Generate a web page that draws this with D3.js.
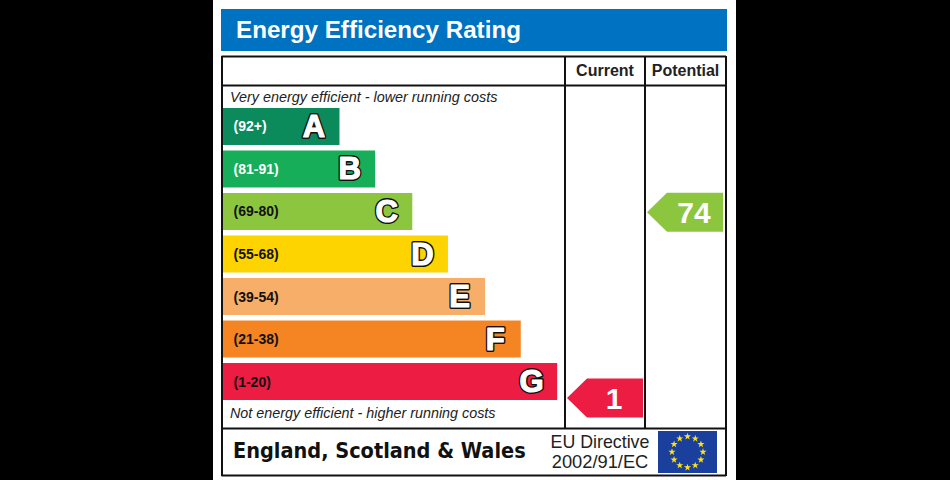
<!DOCTYPE html>
<html><head><meta charset="utf-8">
<script src="https://cdn.jsdelivr.net/npm/d3@7/dist/d3.min.js"></script>
<style>html,body{margin:0;padding:0;background:#000;overflow:hidden}svg{display:block}text{font-family:"Liberation Sans",Arial,sans-serif}</style>
</head><body><svg id="c" width="950" height="480"></svg>
<script>
const letters = ["A","B","C","D","E","F","G"];
const ranges = ["(92+)","(81-91)","(69-80)","(55-68)","(39-54)","(21-38)","(1-20)"];
const barLengths = [3.2,4.18,5.2,6.18,7.2,8.18,9.18];
const barColors = ["#0b8a5c","#17ae59","#8cc63f","#fdd400","#f7ae68","#f58423","#ec1c42"];
const rangeColors = ["#fff","#fff","#111","#111","#111","#111","#111"];
const currentRating = [1];
const potentialRating = [74];
const ratingEdges = [1,20.5,38.5,54.5,68.5,80.5];
const ratingEdgeY = [398,359,317,275,231,190];
const title = "Energy Efficiency Rating";
const columns = ["Current","Potential"];
const topNote = "Very energy efficient - lower running costs";
const bottomNote = "Not energy efficient - higher running costs";
const footer = "England, Scotland & Wales";
const directive = ["EU Directive","2002/91/EC"];
const starIndex = d3.range(12);

const svg = d3.select("#c");
const x = d3.scaleLinear().domain([0,10]).range([223,587]);
const y = d3.scaleBand().domain(letters).range([108,400]).paddingInner(0.13).paddingOuter(0);
const ratingY = d3.scaleLinear().domain(ratingEdges).range(ratingEdgeY);

svg.append("rect").attr("x",213).attr("y",0).attr("width",523).attr("height",480).attr("fill","#fff");
svg.append("rect").attr("x",221).attr("y",9).attr("width",506).attr("height",42).attr("fill","#0072c2");
svg.append("text").attr("x",236).attr("y",38).attr("font-size",24.2).attr("font-weight",700).attr("fill","#fff").text(title);

const lines=[[221.5,56.5,726,56.5,2],[221.5,85.5,726,85.5,2],[221.5,428.5,726,428.5,2],[221.5,475.5,726,475.5,2],
 [222,56,222,476,2],[726,56,726,476,2],[565,56,565,428,2],[645,56,645,428,2]];
svg.selectAll("line.f").data(lines).join("line").attr("class","f")
 .attr("x1",d=>d[0]).attr("y1",d=>d[1]).attr("x2",d=>d[2]).attr("y2",d=>d[3]).attr("stroke","#111").attr("stroke-width",d=>d[4]);

svg.selectAll("text.col").data(columns).join("text").attr("class","col")
 .attr("x",(d,i)=>[605,685.5][i]).attr("y",76).attr("text-anchor","middle").attr("font-size",16).attr("font-weight",700).attr("fill","#222").text(d=>d);

svg.append("text").attr("x",230).attr("y",102).attr("font-size",14.4).attr("font-style","italic").attr("fill","#222").text(topNote);
svg.append("text").attr("x",230).attr("y",418).attr("font-size",14.35).attr("font-style","italic").attr("fill","#222").text(bottomNote);

const g = svg.selectAll("g.bar").data(letters).join("g").attr("class","bar");
g.append("rect").attr("x",x(0)).attr("y",d=>y(d)).attr("height",y.bandwidth())
 .attr("width",(d,i)=>x(barLengths[i])-x(0)).attr("fill",(d,i)=>barColors[i]);
g.append("text").attr("x",233.5).attr("y",d=>y(d)+y.bandwidth()/2+5).attr("font-size",14).attr("font-weight",700)
 .attr("fill",(d,i)=>rangeColors[i]).text((d,i)=>ranges[i]);
[["#111",4,"#111"],["#fff",1.2,"#fff"]].forEach(st=>{
  g.append("text").attr("x",(d,i)=>x(barLengths[i])-25.5).attr("y",d=>y(d)+y.bandwidth()/2+10.5).attr("text-anchor","middle")
   .attr("font-size",31).attr("font-weight",700).attr("fill",st[0]).attr("stroke",st[2]).attr("stroke-width",st[1]).attr("stroke-linejoin","round").text(d=>d);
});

function arrow(val,right,fill){
  const cy=ratingY(val), l=right-76, h=19.5, s=right-56;
  svg.append("path").attr("d",d3.line()([[l,cy],[s,cy-h],[right,cy-h],[right,cy+h],[s,cy+h]])+"Z").attr("fill",fill);
  svg.append("text").attr("x",right-29).attr("y",cy+11).attr("text-anchor","middle").attr("font-size",30).attr("font-weight",700).attr("fill","#fff").text(val);
}
arrow(currentRating[0],643,barColors[6]);
arrow(potentialRating[0],723,barColors[2]);

svg.append("text").attr("x",233).attr("y",458).attr("font-size",21.5).attr("font-weight",700).attr("fill","#111")
 .style("font-family","'DejaVu Sans Condensed','DejaVu Sans',sans-serif").style("font-stretch","condensed").text(footer);
svg.selectAll("text.dir").data(directive).join("text").attr("class","dir")
 .attr("x",600).attr("y",(d,i)=>448+i*20).attr("text-anchor","middle").attr("font-size",(d,i)=>[17.8,18.3][i]).attr("fill","#222").text(d=>d);

svg.append("rect").attr("x",658).attr("y",431).attr("width",59).attr("height",42).attr("fill","#1a3f9c");
const ang=d3.scaleLinear().domain([0,12]).range([0,2*Math.PI]);
const star=d3.symbol().type(d3.symbolStar).size(16);
svg.selectAll("path.st").data(starIndex).join("path").attr("class","st").attr("d",star).attr("fill","#ffe11a")
 .attr("transform",d=>`translate(${687.5+15.5*Math.sin(ang(d))},${452-15.5*Math.cos(ang(d))})`);
</script></body></html>
